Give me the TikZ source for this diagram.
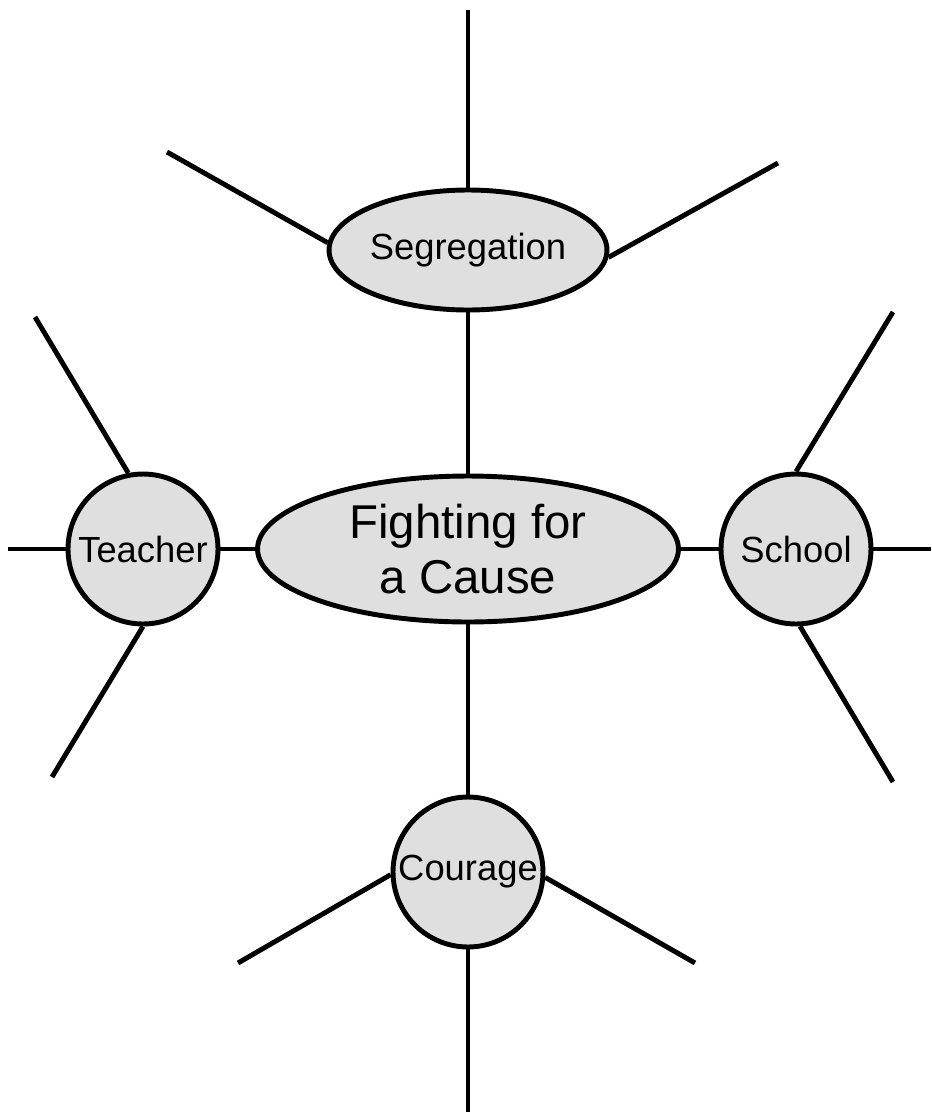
\documentclass[tikz,border=0pt]{standalone}
\usepackage{fontspec}
\setmainfont{Liberation Sans}
\usetikzlibrary{shapes.geometric}
\definecolor{bubblegray}{HTML}{DFDFDF}
\begin{document}
\begin{tikzpicture}[x=0.02cm, y=-0.02cm, line width=2.8pt,
    bubble/.style={draw, fill=bubblegray, inner sep=0pt, font=\fontsize{20.7}{24}\selectfont},
    hub/.style={bubble, ellipse, minimum width=8.42cm, minimum height=2.92cm, align=center, font=\fontsize{27}{31.7}\selectfont},
    oval/.style={bubble, ellipse, minimum width=5.56cm, minimum height=2.4cm},
    topic/.style={bubble, circle, minimum size=3cm}]
\useasboundingbox (0,0) rectangle (931,1120);
\node[hub](cause) at (468,549){Fighting for\\a Cause};
\node[oval](seg) at (468,250){Segregation};
\node[topic](teacher) at (143,549){Teacher};
\node[topic](school) at (796,549){School};
\node[topic](courage) at (468,872){Courage};
% free ends of the spokes
\coordinate (s1) at (468,10);  \coordinate (s2) at (167,152); \coordinate (s3) at (778,163);
\coordinate (t1) at (8,549);   \coordinate (t2) at (35,317);  \coordinate (t3) at (52,777);
\coordinate (h1) at (931,549); \coordinate (h2) at (893,312); \coordinate (h3) at (893,782);
\coordinate (c1) at (468,1112);\coordinate (c2) at (238,963); \coordinate (c3) at (695,963);
\draw (seg.south)--(cause.north);
\draw (cause)--(teacher);
\draw (cause)--(school);
\draw (cause.south)--(courage.north);
\draw (s1)--(seg.north);
\draw (s2)--(seg.177);
\draw (s3)--(seg.-3);
\draw (t1)--(teacher.west);
\draw (t2)--(teacher.101);
\draw (t3)--(teacher.south);
\draw (h1)--(school.east);
\draw (h2)--(school.north);
\draw (h3)--(school.-87);
\draw (c1)--(courage.south);
\draw (c2)--(courage.182);
\draw (c3)--(courage.-4);
\end{tikzpicture}
\end{document}
